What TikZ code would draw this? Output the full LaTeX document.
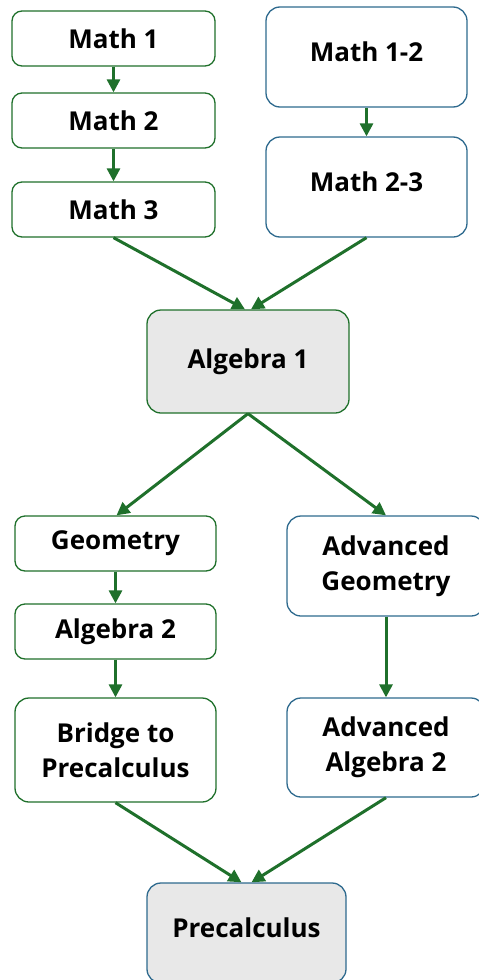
\documentclass[tikz,border=0pt]{standalone}
\usepackage{fontspec}
\setmainfont{Open Sans}
\usetikzlibrary{arrows.meta}
\definecolor{gr}{HTML}{1F702B}
\definecolor{bl}{HTML}{2E6A8E}
\definecolor{fillg}{HTML}{E8E8E8}
\tikzset{
  box/.style={draw=gr, line width=1.3pt, rounded corners=10pt, fill=white, inner sep=0pt,
    font=\fontsize{26}{35}\selectfont\bfseries, align=center},
  gbox/.style={box},
  bbox/.style={box, draw=bl, rounded corners=14pt},
  raise/.style={text depth=11pt},
  arr/.style={draw=gr, line width=3pt, -{Triangle[length=13pt,width=13pt]}},
}
\begin{document}
\begin{tikzpicture}[x=1pt,y=-1pt]
\useasboundingbox (0,0) rectangle (479,980);
\node[gbox, minimum width=203pt, minimum height=55pt] (m1) at (113.5,38.5) {Math 1};
\node[gbox, minimum width=203pt, minimum height=55pt] (m2) at (113.5,120.5) {Math 2};
\node[gbox, minimum width=203pt, minimum height=55pt] (m3) at (113.5,209.5) {Math 3};
\node[bbox, raise, minimum width=201pt, minimum height=100pt] (m12) at (366.5,57) {Math 1-2};
\node[bbox, raise, minimum width=201pt, minimum height=100pt] (m23) at (366.5,187) {Math 2-3};
\node[gbox, rounded corners=14pt, fill=fillg, minimum width=202pt, minimum height=103pt] (a1) at (248,361.5) {Algebra 1};
\node[gbox, minimum width=201pt, minimum height=55pt] (geo) at (115.5,543.5) {Geometry};
\node[gbox, minimum width=201pt, minimum height=55pt] (a2) at (115.5,631.5) {Algebra 2};
\node[gbox, rounded corners=14pt, minimum width=201pt, minimum height=104pt] (br) at (115.5,750) {Bridge to\\Precalculus};
\node[bbox, minimum width=198pt, minimum height=100pt] (ag) at (386,566) {Advanced\\Geometry};
\node[bbox, minimum width=198pt, minimum height=99pt] (aa) at (386,747.5) {Advanced\\Algebra 2};
\node[bbox, raise, fill=fillg, minimum width=199pt, minimum height=100pt] (pc) at (246.5,933) {Precalculus};

\draw[arr] (m1.south) -- (m2.north);
\draw[arr] (m2.south) -- (m3.north);
\draw[arr] (m12.south) -- (m23.north);
\draw[arr] (m3.south) -- ([xshift=-3pt]a1.north);
\draw[arr] (m23.south) -- ([xshift=3pt]a1.north);
\draw[arr] (a1.south) -- ([xshift=1pt]geo.north);
\draw[arr] (a1.south) -- (ag.north);
\draw[arr] (geo.south) -- (a2.north);
\draw[arr] (a2.south) -- (br.north);
\draw[arr] (ag.south) -- (aa.north);
\draw[arr] (br.south) -- ([xshift=-5pt]pc.north);
\draw[arr] (aa.south) -- ([xshift=5pt]pc.north);
\end{tikzpicture}
\end{document}
